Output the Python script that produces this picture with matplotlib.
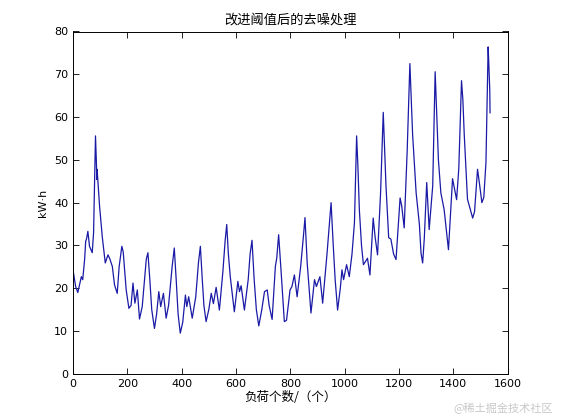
import matplotlib
matplotlib.use("Agg")
import matplotlib.pyplot as plt

# vertices (sample index, kWh)
load_idx = [
    1, 10, 18, 31, 36, 43, 47, 50, 55, 61, 71, 76, 83, 86, 88, 89, 98, 108,
    119, 129, 135, 145, 153, 163, 170, 180, 185, 196, 206, 214, 221, 228, 237,
    245, 255, 262, 270, 276, 283, 290, 300, 308, 316, 323, 333, 343, 352, 365,
    373, 380, 387, 395, 404, 414, 419, 426, 439, 452, 462, 469, 476, 482, 490,
    500, 509, 517, 527, 539, 552, 560, 566, 572, 579, 594, 607, 613, 619, 631,
    645, 652, 659, 667, 675, 684, 695, 705, 715, 722, 733, 745, 750, 757, 766,
    778, 786, 799, 806, 815, 825, 838, 848, 854, 862, 876, 889, 896, 909, 919,
    935, 945, 950, 958, 965, 974, 984, 990, 996, 1007, 1017, 1027, 1036, 1044,
    1049, 1054, 1062, 1069, 1084, 1093, 1105, 1112, 1121, 1132, 1142, 1152,
    1162, 1170, 1180, 1189, 1204, 1210, 1219, 1230, 1240, 1250, 1263, 1275,
    1281, 1287, 1293, 1302, 1311, 1324, 1333, 1338, 1345, 1354, 1366, 1382,
    1397, 1412, 1420, 1430, 1435, 1440, 1452, 1471, 1478, 1489, 1497, 1505,
    1512, 1520, 1528, 1530, 1534, 1535,
]
load_kwh = [
    24, 20.4, 19, 22.7, 22, 26.7, 31, 31.5, 33.3, 29.8, 28.3, 33, 55.6, 50,
    45.4, 47.8, 39.2, 32, 25.9, 27.8, 27, 25.1, 20.8, 18.8, 25, 29.8, 28.5,
    19.6, 15.3, 16, 21.2, 16.5, 19.6, 12.8, 15.7, 21, 26.8, 28.3, 22, 15, 10.6,
    14, 19.2, 15.7, 18.8, 13, 16, 25, 29.4, 22, 14, 9.5, 12, 18.4, 15.7, 18,
    13, 18, 26, 29.8, 22, 16, 12.2, 15, 18.8, 16.4, 20.2, 14.9, 24, 31, 34.9,
    28, 22.7, 14.5, 21.6, 19.2, 20.6, 14.9, 22, 28, 31.2, 22, 15, 11.2, 15,
    19.2, 19.6, 16, 12.7, 25.1, 27, 32.5, 24, 12.2, 12.5, 19.6, 20.4, 23.1,
    18, 25, 32, 36.5, 26, 14.2, 22, 20.4, 22.7, 16.5, 28, 36, 40, 30, 22,
    14.9, 20, 24.3, 22, 25.5, 22.7, 28, 35.3, 55.6, 48, 38.4, 30, 25.5, 27,
    23.1, 36.4, 32, 27.8, 42, 61.1, 44, 31.8, 31.5, 28, 26.7, 41.1, 39.2,
    34.1, 52, 72.5, 56, 42.3, 34.9, 28.2, 25.9, 31.6, 44.7, 33.7, 43.9, 70.6,
    62, 50, 42.3, 38.4, 29, 45.6, 40.7, 48, 68.5, 64, 56, 40.8, 36.4, 37.9,
    47.8, 44, 40, 41.2, 49.4, 76.4, 73.3, 66.2, 61,
]

x_ticks = list(range(0, 1601, 200))
y_ticks = list(range(0, 81, 10))

plt.rcParams["font.family"] = ["Noto Sans CJK SC", "DejaVu Sans"]

fig = plt.figure(figsize=(5.61, 4.2), dpi=100)
ax = fig.add_axes([0.13, 0.11, 0.775, 0.815])
ax.plot(load_idx, load_kwh, color="#1a1aa6", linewidth=0.9)

ax.set_xlim(0, 1600)
ax.set_ylim(0, 80)
ax.set_xticks(x_ticks)
ax.set_yticks(y_ticks)
ax.tick_params(direction="in", top=True, right=True, labelsize=8, length=4,
               width=0.6)
for lab in ax.get_xticklabels() + ax.get_yticklabels():
    lab.set_family("DejaVu Sans")
for s in ax.spines.values():
    s.set_linewidth(0.7)

ax.set_title("改进阈值后的去噪处理", fontsize=9.5, pad=6)
ax.set_xlabel("负荷个数/（个）", fontsize=9, labelpad=2)
ax.set_ylabel("kW·h", fontsize=8, labelpad=4, family="DejaVu Sans")

fig.text(0.985, 0.015, "@稀土掘金技术社区", ha="right", va="bottom",
         fontsize=8, color="#c8c8c8")

fig.savefig("out.png", dpi=100)
